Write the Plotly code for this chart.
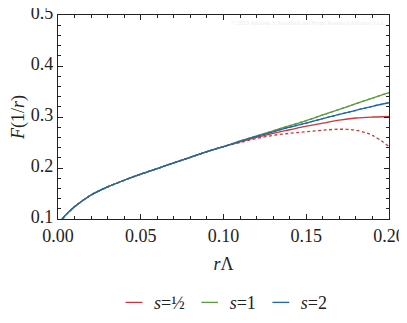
import plotly.graph_objects as go

# Data
x_common = [0.0025, 0.005, 0.01, 0.02, 0.03, 0.04, 0.05, 0.06, 0.07, 0.08, 0.09, 0.10]
y_common = [0.100, 0.109, 0.124, 0.147, 0.163, 0.176, 0.188, 0.199, 0.210, 0.221, 0.232, 0.242]

x_tail = [0.11, 0.12, 0.13, 0.14, 0.15, 0.16, 0.17, 0.18, 0.19, 0.20]
y_s1 = [0.253, 0.263, 0.273, 0.283, 0.293, 0.304, 0.315, 0.326, 0.337, 0.348]
y_s2 = [0.252, 0.262, 0.271, 0.280, 0.288, 0.297, 0.305, 0.313, 0.321, 0.328]
y_shalf = [0.251, 0.260, 0.268, 0.275, 0.282, 0.288, 0.294, 0.298, 0.300, 0.301]
y_shalf_dashed = [0.250, 0.258, 0.264, 0.268, 0.271, 0.274, 0.276, 0.274, 0.264, 0.242]

legend_labels = ["<i>s</i>=½", "<i>s</i>=1", "<i>s</i>=2"]

x_all = x_common + x_tail

series = [
    (legend_labels[0], y_common + y_shalf, y_common + y_shalf_dashed, "#c8373b"),
    (legend_labels[1], y_common + y_s1, y_common + y_s1, "#5c9c3c"),
    (legend_labels[2], y_common + y_s2, y_common + y_s2, "#1f66b0"),
]

fig = go.Figure()
for name, ys, yd, col in series:
    fig.add_trace(go.Scatter(x=x_all, y=yd, mode="lines",
                             line=dict(color=col, width=1.3, dash="3px,2.5px", shape="spline"),
                             showlegend=False, hoverinfo="skip"))
for name, ys, yd, col in series:
    fig.add_trace(go.Scatter(x=x_all, y=ys, mode="lines", showlegend=False,
                             line=dict(color=col, width=1.3, shape="spline")))
# legend entries with short line symbols
for name, ys, yd, col in series:
    fig.add_trace(go.Scatter(x=[None], y=[None], mode="markers", name=name,
                             marker=dict(symbol="line-ew", size=12, line=dict(color=col, width=1.3))))

font_family = "Liberation Serif"
axis_common = dict(
    showgrid=False, zeroline=False, showline=True, linecolor="#222", linewidth=1.2,
    mirror="ticks", ticks="inside", ticklen=5, tickwidth=1, tickcolor="#222",
    tickfont=dict(family=font_family, size=18, color="#222"),
    ticklabeloverflow="allow", automargin=False,
)

# the page body has an 8px margin, so the figure is sized to fit the window
fig.update_layout(
    width=399, height=315,
    margin=dict(l=50, r=18, t=7, b=104, autoexpand=False),
    paper_bgcolor="white", plot_bgcolor="white",
    font=dict(family=font_family, color="#222"),
    xaxis=dict(range=[0, 0.2], tickvals=[0, 0.05, 0.1, 0.15, 0.2],
               ticktext=["0.00", "0.05", "0.10", "0.15", "0.20"],
               minor=dict(dtick=0.01, ticks="inside", ticklen=3, tickcolor="#222"),
               title=dict(text="<i>r</i>Λ", font=dict(family=font_family, size=18), standoff=12),
               **axis_common),
    yaxis=dict(range=[0.1, 0.5], tickvals=[0.1, 0.2, 0.3, 0.4, 0.5],
               ticktext=["0.1", "0.2", "0.3", "0.4", "0.5"],
               minor=dict(dtick=0.02, ticks="inside", ticklen=3, tickcolor="#222"),
               title=dict(text="<i>F</i>(1/<i>r</i>)", font=dict(family=font_family, size=18), standoff=6),
               ticklabelshift=-2,
               **axis_common),
    legend=dict(orientation="h", x=0.5, xanchor="center", y=-0.41, yanchor="middle",
                font=dict(family=font_family, size=18), itemwidth=30, tracegroupgap=0),
    annotations=[dict(text="© 2023 Andreas S. Kronfeld and Fermi Research Alliance, LLC",
                      xref="paper", yref="paper", x=0.995, y=0.96, xanchor="right", yanchor="middle",
                      showarrow=False, font=dict(family=font_family, size=6, color="#ececec"))],
)

fig.write_html("out.html")
